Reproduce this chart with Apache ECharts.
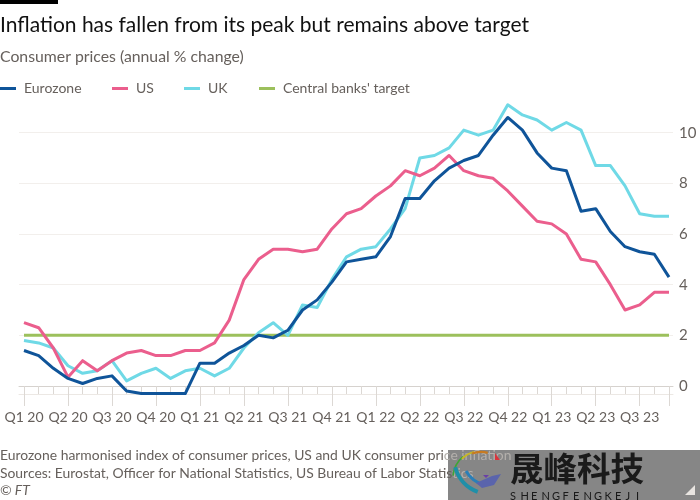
<!DOCTYPE html>
<html><head><meta charset="utf-8">
<style>html,body{margin:0;padding:0;background:#fff}#c{width:700px;height:500px}</style>
<script src="https://cdn.jsdelivr.net/npm/echarts@6/dist/echarts.min.js"></script>
</head><body><div id="c"></div>
<script>
const months = [];
for (const y of ['20','21','22','23']) for (let m = 1; m <= 12; m++) { if (y === '23' && m > 9) break; months.push('Q' + (Math.floor((m - 1) / 3) + 1) + ' ' + y); }
const eurozone = [1.4,1.2,0.7,0.3,0.1,0.3,0.4,-0.2,-0.3,-0.3,-0.3,-0.3,0.9,0.9,1.3,1.6,2.0,1.9,2.2,3.0,3.4,4.1,4.9,5.0,5.1,5.9,7.4,7.4,8.1,8.6,8.9,9.1,9.9,10.6,10.1,9.2,8.6,8.5,6.9,7.0,6.1,5.5,5.3,5.2,4.3];
const us = [2.5,2.3,1.5,0.35,1.0,0.6,1.0,1.3,1.4,1.2,1.2,1.4,1.4,1.7,2.6,4.2,5.0,5.4,5.4,5.3,5.4,6.2,6.8,7.0,7.5,7.9,8.5,8.3,8.6,9.1,8.5,8.3,8.2,7.7,7.1,6.5,6.4,6.0,5.0,4.9,4.0,3.0,3.2,3.7,3.7];
const uk = [1.8,1.7,1.5,0.8,0.5,0.6,1.0,0.2,0.5,0.7,0.3,0.6,0.7,0.4,0.7,1.5,2.1,2.5,2.0,3.2,3.1,4.2,5.1,5.4,5.5,6.2,7.0,9.0,9.1,9.4,10.1,9.9,10.1,11.1,10.7,10.5,10.1,10.4,10.1,8.7,8.7,7.9,6.8,6.7,6.7];
const target = months.map(() => 2);
const seriesNames = ['Eurozone', 'US', 'UK', "Central banks' target"];
const title = 'Inflation has fallen from its peak but remains above target';
const subtitle = 'Consumer prices (annual % change)';
const note1Start = 'Eurozone harmonised index of consumer prices, US and UK consumer pri';
const note2Start = 'Sources: Eurostat, Officer for National Statistics, US Bureau of Labor Statis';

const F = 'Lato, "Open Sans", sans-serif';
const GREY = '#66605c';
const COL = { ez: '#0f5499', us: '#eb5e8d', uk: '#6fd9e6', tg: '#9cc05c' };
const chart = echarts.init(document.getElementById('c'), null, { renderer: 'canvas' });
const tx = (x, y, text, size, fill, extra) => ({ type: 'text', x, y, silent: true, style: Object.assign({ text, font: size + 'px ' + F, fill, textVerticalAlign: 'middle' }, extra || {}) });
const legendItems = [[0, COL.ez], [112, COL.us], [184, COL.uk], [259, COL.tg]];
const noteRich = { a: { fill: GREY, font: '13.9px ' + F }, b: { fill: '#b4b0ac', font: '13.9px ' + F } };
const graphics = [
  { type: 'rect', shape: { x: 0, y: 0, width: 58, height: 4 }, style: { fill: '#000' }, silent: true },
  tx(0, 25, title, 21, '#111'),
  tx(0, 57, subtitle, 15.8, GREY),
  { type: 'rect', z: 50, shape: { x: 448, y: 450, width: 252, height: 50 }, style: { fill: '#868686' }, silent: true },
  { type: 'text', z: 52, x: 0, y: 456, silent: true, style: { text: '{a|' + note1Start + '}{b|ce inflation}', rich: noteRich, textVerticalAlign: 'middle' } },
  { type: 'text', z: 52, x: 0, y: 474, silent: true, style: { text: '{a|' + note2Start + '}{b|tics}', rich: noteRich, textVerticalAlign: 'middle' } },
  tx(0, 491, '© FT', 13.9, GREY, { font: 'italic 13.9px ' + F }),
];
legendItems.forEach((it, i) => {
  graphics.push({ type: 'rect', shape: { x: it[0], y: 87, width: 16, height: 3 }, style: { fill: it[1] }, silent: true });
  graphics.push(tx(it[0] + 24, 88, seriesNames[i], 14, GREY));
});
// watermark logo
const arc = (cx, cy, r, a0, a1, color, w) => ({ type: 'arc', z: 53, silent: true, shape: { cx, cy, r, startAngle: a0 * Math.PI / 180, endAngle: a1 * Math.PI / 180, clockwise: true }, style: { stroke: color, fill: null, lineWidth: w } });
graphics.push(
  arc(481, 478, 28, 185, 230, '#3fa535', 1.6),
  arc(481, 478, 27, 225, 255, '#c8b820', 1.8),
  arc(481, 478, 26, 250, 285, '#c87a20', 2.2),
  arc(490, 458, 36, 110, 165, '#1f8fa8', 4),
  arc(492, 456, 30, 105, 150, '#2a7fb8', 3),
  { type: 'polygon', z: 53, silent: true, shape: { points: [[476, 483], [492, 476], [501, 474], [494, 485], [482, 488]] }, style: { fill: '#5a64ac' } },
  { type: 'polygon', z: 53, silent: true, shape: { points: [[483, 475], [489, 475], [486, 478]] }, style: { fill: '#6a3fa8' } },
  { type: 'polygon', z: 53, silent: true, shape: { points: [[495, 453], [500, 460], [495, 460]] }, style: { fill: '#d8343c' } },
  { type: 'polygon', z: 53, silent: true, shape: { points: [[685, 495], [695, 485], [695, 495]] }, style: { fill: '#e8e4e0' } },
  { type: 'text', z: 53, x: 510, y: 468, silent: true, style: { text: '晟峰科技', font: 'bold 33.5px "Noto Sans CJK SC"', fill: '#1a1a1a', textVerticalAlign: 'middle' } }
);
'SHENGFENGKEJI'.split('').forEach((ch, i) => {
  graphics.push({ type: 'text', z: 53, x: 510 + i * 10.5, y: 496, silent: true, style: { text: ch, font: '11px ' + F, fill: '#1a1a1a', textVerticalAlign: 'middle' } });
});

const line = (name, data, color, z) => ({ name, type: 'line', data, xAxisIndex: 0, yAxisIndex: 0, showSymbol: false, symbol: 'none', clip: false, z, lineStyle: { color, width: 3, join: 'round' }, animation: false });

chart.setOption({
  animation: false,
  backgroundColor: '#fff',
  graphic: graphics,
  grid: [
    { left: 24, right: 31, top: 82, height: 304 },
    { left: 19, right: 27, top: 82, height: 304 }
  ],
  xAxis: [
    { gridIndex: 0, type: 'category', boundaryGap: false, data: months, position: 'bottom', offset: 8,
      axisLine: { show: false }, axisLabel: { show: false }, splitLine: { show: false },
      axisTick: { show: true, length: 8, interval: 0, lineStyle: { color: '#dcd8d4', width: 1 } } },
    { gridIndex: 0, type: 'category', boundaryGap: false, data: months, position: 'bottom', offset: 8,
      axisLine: { show: false }, splitLine: { show: false },
      axisTick: { show: true, length: 12, interval: (i) => i % 3 === 0 || i === months.length - 1, lineStyle: { color: '#dcd8d4', width: 1 } },
      axisLabel: { show: true, interval: 2, margin: 16, fontFamily: F, fontSize: 14, color: GREY, hideOverlap: false } },
    { gridIndex: 1, type: 'category', boundaryGap: false, data: months, position: 'bottom', offset: 8,
      axisLine: { show: true, onZero: false, lineStyle: { color: '#ece8e4', width: 1 } }, axisTick: { show: false }, axisLabel: { show: false }, splitLine: { show: false } },
    { gridIndex: 1, type: 'category', boundaryGap: false, data: months, position: 'bottom', offset: 0,
      axisLine: { show: true, onZero: false, lineStyle: { color: '#d6d2ce', width: 1 } }, axisTick: { show: false }, axisLabel: { show: false }, splitLine: { show: false } }
  ],
  yAxis: [
    { gridIndex: 0, type: 'value', min: 0, max: 12, interval: 2, position: 'right', show: false, splitLine: { show: false } },
    { gridIndex: 1, type: 'value', min: 0, max: 12, interval: 2, position: 'right',
      axisLine: { show: false }, axisTick: { show: false },
      axisLabel: { fontFamily: F, fontSize: 15, color: GREY, margin: 6, formatter: (v) => v > 10 ? '' : v },
      splitLine: { show: true, showMaxLine: false, lineStyle: { color: '#f2efec', width: 1 } } }
  ],
  series: [
    line(seriesNames[3], target, COL.tg, 2),
    line(seriesNames[2], uk, COL.uk, 3),
    line(seriesNames[1], us, COL.us, 4),
    line(seriesNames[0], eurozone, COL.ez, 5)
  ]
});
</script></body></html>
